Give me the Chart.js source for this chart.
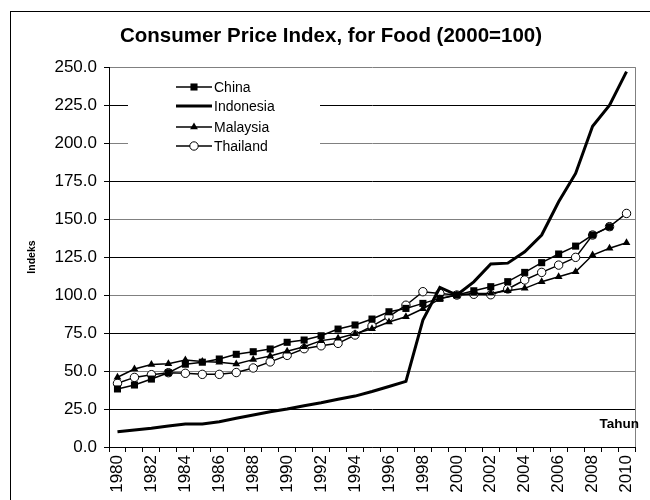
<!DOCTYPE html>
<html>
<head>
<meta charset="utf-8">
<script src="https://cdn.jsdelivr.net/npm/chart.js@4/dist/chart.umd.min.js"></script>
<style>
    html, body { margin: 0; padding: 0; background: #fff; }
    #wrap { position: relative; width: 650px; height: 500px; }
</style>
</head>
<body>
<div id="wrap"><canvas id="cpi" width="650" height="500"></canvas></div>
<script>
const years = [];
for (let y = 1980; y <= 2010; y++) years.push(String(y));

const china = [38.2, 40.8, 44.7, 48.9, 54.5, 55.8, 57.9, 61, 62.7, 64.5, 68.9, 70.4, 73.2, 77.6, 80.3, 84.2,
    89, 91.2, 94.5, 97.8, 100, 102.8, 105.5, 108.8, 114.9, 121.3, 127, 132.2, 139.5, 144.9, null];
const indonesia = [10, 11.2, 12.3, 13.8, 15.1, 15.1, 16.6, 18.9, 21, 23.2, 25, 27.2, 29.1, 31.4, 33.5, 36.5,
    39.8, 43.2, 83.5, 105, 100, 108.7, 120.4, 121, 128.5, 139.5, 161.4, 180, 211, 225, 247];
const malaysia = [45.9, 51.3, 54.3, 54.8, 57.2, 56.2, 55.8, 54.6, 57.5, 59.9, 63, 66, 70, 71.5, 74.5, 77.8,
    82.3, 85.7, 91, 97.5, 100, 101, 101.2, 102.8, 104.4, 108.8, 112, 115.3, 126.3, 130.8, 134.4];
const thailand = [41.9, 45.8, 47.6, 48.9, 48.5, 47.8, 47.8, 49, 52, 56, 60.3, 64.7, 66.6, 68.2, 73.7, 79.6,
    85.8, 93.3, 102.2, 101, 100, 100.5, 100.2, 104, 109.9, 114.9, 119.7, 124.8, 139.5, 145, 153.7];

const FONT = "'Liberation Sans', Arial, sans-serif";

// ── Legend drawn inside the plot, plus frame and "Tahun" ──

function drawMarker(c, style, r, x, y) {
    c.beginPath();
    if (style === 'rect') {
        const s = r * Math.SQRT2;
        c.fillRect(x - s / 2, y - s / 2, s, s);
    } else if (style === 'triangle') {
        c.moveTo(x, y - r);
        c.lineTo(x + r * 0.87, y + r * 0.5);
        c.lineTo(x - r * 0.87, y + r * 0.5);
        c.closePath();
        c.fill();
    } else {
        c.arc(x, y, r, 0, Math.PI * 2);
        c.fill();
        c.stroke();
    }
}

const extras = {
    id: 'extras',
    beforeDraw(chart) {
        const c = chart.ctx;
        c.save();
        c.fillStyle = '#fff';
        c.fillRect(0, 0, chart.width, chart.height);
        c.strokeStyle = '#000';
        c.lineWidth = 1;
        c.strokeRect(10.5, 11.5, 700, 600);
        c.restore();
    },
    afterDraw(chart) {
        const c = chart.ctx;
        const a = chart.chartArea;
        c.save();
        // right border of plot
        c.strokeStyle = '#808080';
        c.lineWidth = 1;
        c.beginPath();
        c.moveTo(a.right + 0.5, a.top);
        c.lineTo(a.right + 0.5, a.bottom);
        c.stroke();

        // legend box
        c.fillStyle = '#fff';
        c.fillRect(128, 76, 192, 86);
        const rows = [87, 106, 127, 146];
        chart.data.datasets.forEach((ds, i) => {
            const y = rows[i];
            c.strokeStyle = '#000';
            c.lineWidth = ds.borderWidth;
            c.beginPath();
            c.moveTo(176, y);
            c.lineTo(212, y);
            c.stroke();
            if (ds.pointRadius > 0) {
                c.fillStyle = ds.pointBackgroundColor;
                c.strokeStyle = '#000';
                c.lineWidth = 1;
                drawMarker(c, ds.pointStyle, ds.pointRadius, 194, y);
            }
            c.fillStyle = '#000';
            c.font = '14px ' + FONT;
            c.textBaseline = 'middle';
            c.textAlign = 'left';
            c.fillText(ds.label, 214, y + 1);
        });

        c.font = 'bold 13.5px ' + FONT;
        c.textAlign = 'right';
        c.textBaseline = 'middle';
        c.fillStyle = '#000';
        c.fillText('Tahun', 639, 424);
        c.restore();
    }
};

const ctx = document.getElementById('cpi').getContext('2d');

new Chart(ctx, {
    type: 'line',
    data: {
        labels: years,
        datasets: [
            {
                label: 'China', data: china,
                borderColor: '#000', borderWidth: 1.5,
                pointStyle: 'rect', pointRadius: 5,
                pointBackgroundColor: '#000', pointBorderColor: '#000', pointBorderWidth: 0
            },
            {
                label: 'Indonesia', data: indonesia,
                borderColor: '#000', borderWidth: 3,
                pointRadius: 0
            },
            {
                label: 'Malaysia', data: malaysia,
                borderColor: '#000', borderWidth: 1.5,
                pointStyle: 'triangle', pointRadius: 4.5,
                pointBackgroundColor: '#000', pointBorderColor: '#000', pointBorderWidth: 0
            },
            {
                label: 'Thailand', data: thailand,
                borderColor: '#000', borderWidth: 1.5,
                pointStyle: 'circle', pointRadius: 4.2,
                pointBackgroundColor: '#fff', pointBorderColor: '#000', pointBorderWidth: 1
            }
        ]
    },
    options: {
        responsive: false,
        animation: false,
        devicePixelRatio: 1,
        layout: { padding: { left: 15, right: 3, top: 0, bottom: 0 } },
        plugins: {
            legend: { display: false },
            tooltip: { enabled: false },
            title: {
                display: true,
                text: 'Consumer Price Index, for Food (2000=100)',
                color: '#000',
                font: { family: FONT, size: 20.5, weight: 'bold' },
                padding: { top: 24, bottom: 18.5 }
            }
        },
        scales: {
            x: {
                offset: true,
                grid: { display: true, drawOnChartArea: false, drawTicks: true, tickLength: 5, tickColor: '#000', offset: true },
                border: { color: '#000', width: 1 },
                ticks: {
                    autoSkip: false,
                    minRotation: 90,
                    maxRotation: 90,
                    padding: 3,
                    color: '#000',
                    font: { family: FONT, size: 17 },
                    callback: (v, i) => (i % 2 === 0 ? years[i] : '')
                },
                afterFit: s => { s.height = 53; }
            },
            y: {
                min: 0,
                max: 250,
                grid: {
                    color: c => (c.tick && c.tick.value % 50 === 0 ? '#808080' : '#000'),
                    tickColor: '#000',
                    tickLength: 5
                },
                border: { color: '#000', width: 1 },
                ticks: {
                    stepSize: 25,
                    padding: 7,
                    color: '#000',
                    font: { family: FONT, size: 17 },
                    callback: v => v.toFixed(1)
                },
                title: {
                    display: true,
                    text: 'Indeks',
                    color: '#000',
                    font: { family: FONT, size: 10.5, weight: 'bold' },
                    padding: { top: 11, bottom: 0 }
                },
                afterFit: s => { s.width = 94; }
            }
        }
    },
    plugins: [extras]
});
</script>
</body>
</html>
